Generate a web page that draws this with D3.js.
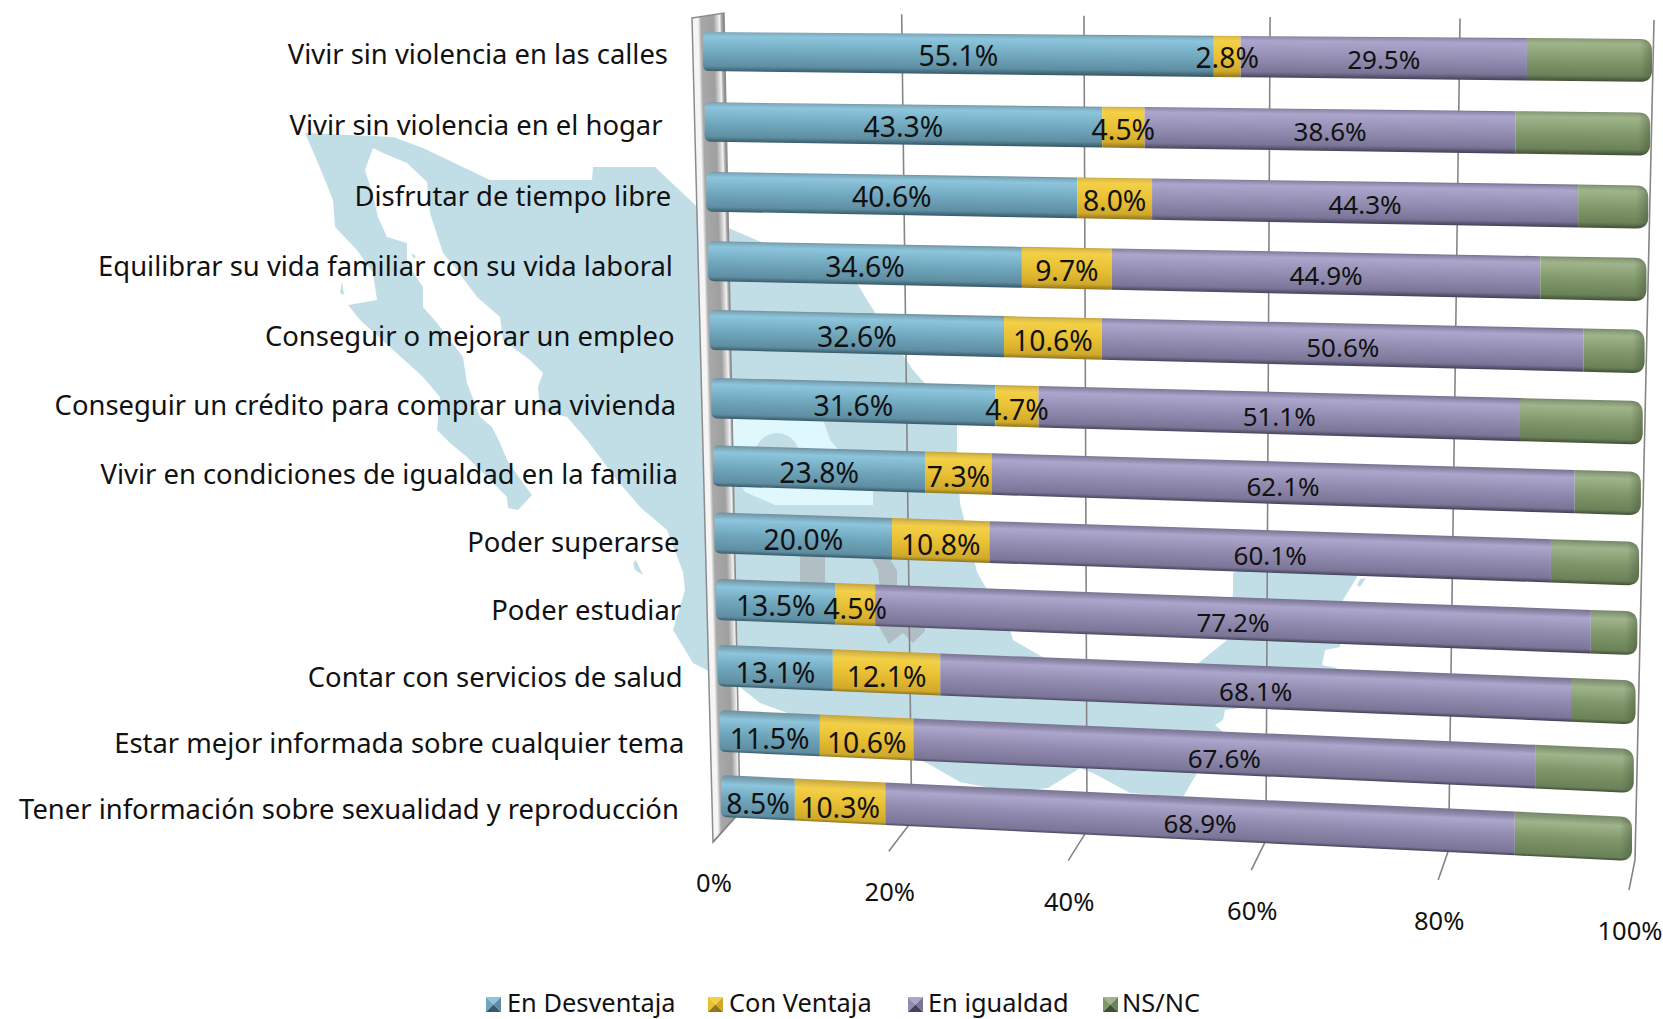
<!DOCTYPE html>
<html><head><meta charset="utf-8">
<style>html,body{margin:0;padding:0;background:#fff}svg{display:block}text{font-family:"Noto Sans",sans-serif;fill:#111;white-space:pre}</style>
<script src="https://cdn.jsdelivr.net/npm/d3@7/dist/d3.min.js"></script>
</head><body><svg id="c" width="1663" height="1019"></svg>
<script>
const categories=["Vivir sin violencia en las calles","Vivir sin violencia en el hogar ","Disfrutar de tiempo libre","Equilibrar su vida familiar con su vida laboral","Conseguir o mejorar un empleo","Conseguir un crédito para comprar una vivienda","Vivir en condiciones de igualdad en la familia","Poder superarse","Poder estudiar","Contar con servicios de salud","Estar mejor informada sobre cualquier tema","Tener información sobre sexualidad y reproducción "];
const enDesventaja=[55.1,43.3,40.6,34.6,32.6,31.6,23.8,20.0,13.5,13.1,11.5,8.5];
const conVentaja=[2.8,4.5,8.0,9.7,10.6,4.7,7.3,10.8,4.5,12.1,10.6,10.3];
const enIgualdad=[29.5,38.6,44.3,44.9,50.6,51.1,62.1,60.1,77.2,68.1,67.6,68.9];
const nsnc=[12.6,13.6,7.1,10.8,6.2,12.6,6.8,9.1,4.8,6.7,10.3,12.3];
const seriesNames=["En Desventaja","Con Ventaja","En igualdad","NS/NC"];
const axisTicks=[0,20,40,60,80,100];
const seriesValues=[enDesventaja,conVentaja,enIgualdad,nsnc];
const seriesLabelled=[true,true,true,false];
const seriesLabelSize=[28.3,28.3,26,0];
const palettes=[
 ["#6d909f","#7fa9bb","#8cc5dc","#6fa6bc","#5f8ea2","#375a69"],
 ["#c4a23a","#dcbc4a","#f3d047","#e8bf33","#d0a92a","#8f7620"],
 ["#777390","#8f8aab","#aca6cc","#918bb0","#7b7698","#45425a"],
 ["#76876a","#8a9d78","#9fb48b","#7f9669","#6b8259","#414f36"]];
// decorative background map outline, traced in page pixels
const mapOutline=[[305,133],[393,137],[423,148],[490,180],[592,180],[593,167],[655,167],[690,200],[710,220],[857,283],[867,300],[913,370],[957,420],[957,453],[960,503],[977,572],[1010,630],[1013,640],[1100,690],[1170,680],[1200,662],[1227,640],[1233,593],[1233,573],[1270,556],[1357,565],[1357,577],[1343,600],[1340,647],[1325,650],[1322,665],[1337,668],[1300,700],[1225,710],[1223,720],[1215,725],[1223,732],[1215,750],[1197,773],[1183,797],[1130,793],[1093,773],[1080,768],[1077,770],[1048,788],[1010,792],[960,782],[927,763],[793,715],[760,703],[740,687],[693,663],[673,630],[685,590],[683,572],[667,530],[640,507],[617,480],[587,440],[567,417],[540,410],[538,387],[543,373],[530,360],[503,340],[500,317],[477,297],[457,270],[443,253],[430,213],[427,182],[407,163],[383,153],[373,148],[365,170],[373,195],[378,217],[387,237],[407,243],[407,263],[423,287],[423,307],[437,323],[463,357],[467,383],[480,417],[492,427],[500,443],[507,460],[523,483],[532,495],[518,510],[508,508],[507,497],[490,480],[467,457],[450,443],[437,430],[440,397],[423,377],[390,347],[360,320],[348,305],[377,300],[373,273],[357,250],[335,227],[333,200],[318,163]];
const mapIslands=[[[342,282],[344,295],[340,293]],[[633,563],[636,560],[643,575],[635,570]],[[1360,579],[1366,578],[1360,587],[1357,585]],[[411,253],[416,256],[414,259]]];
const logoLight=[[733,410],[820,410],[830,440],[873,490],[873,505],[775,505],[745,492],[733,470]];
const logoGrey=[[[800,555],[825,555],[825,590],[800,590]],[[868,552],[885,552],[897,570],[897,590],[880,590],[878,570]],[[875,620],[925,620],[925,631],[913,643],[903,633],[889,644]]];

const svg=d3.select("#c");
const defs=svg.append("defs");
const kx=0.05,ky=-0.045;
const depth=(v,k)=>v*(1-k)/(1-k*v);
const uScale=d3.scaleLinear().domain([0,100]).range([0,1]);
const tOf=u=>depth(uScale(u),kx);
const rowOf=i=>depth(i/(categories.length-1),ky);
const unit=r=>d3.scaleLinear().domain([0,1]).range(r);
const xL=unit([703,721]),xR=unit([1652,1632]),tL=unit([32,775]),bL=unit([71,817]),tR=unit([39,817]),bR=unit([82,861]);
const barPt=(i,u)=>{const g=rowOf(i),t=tOf(u);return {x:unit([xL(g),xR(g)])(t),top:unit([tL(g),tR(g)])(t),bot:unit([bL(g),bR(g)])(t)};};
const backTopX=unit([723,1654]),backBotX=unit([740,1635]),frontX=unit([713,1629]);
const backTopY=unit([13,20]),backBotY=unit([812,860]),frontY=unit([842,890]);
const line=d3.line().curve(d3.curveLinearClosed);

// map
const gm=svg.append("g");
const mapColor="#c1dee7";
gm.append("path").attr("d",line(mapOutline)).attr("fill",mapColor);
gm.selectAll(".isl").data(mapIslands).join("path").attr("d",d=>line(d)).attr("fill",mapColor);
gm.append("path").attr("d",line(logoLight)).attr("fill","#dff8fd");
gm.append("circle").attr("cx",777).attr("cy",455).attr("r",22).attr("fill",mapColor);
gm.selectAll(".lg").data(logoGrey).join("path").attr("d",d=>line(d)).attr("fill","#b1bfc5");

// side wall
const wg=defs.append("linearGradient").attr("id","wall").attr("gradientUnits","userSpaceOnUse")
 .attr("x1",701).attr("y1",430).attr("x2",733).attr("y2",429.2);
[[0,"#f4f4f4"],[.22,"#f6f6f6"],[.32,"#a8a8a8"],[.7,"#9f9f9f"],[.84,"#d8d8d8"],[.9,"#f2f2f2"],[.95,"#b5b5b5"],[1,"#909090"]]
 .forEach(s=>wg.append("stop").attr("offset",s[0]).attr("stop-color",s[1]));
svg.append("path").attr("d",line([[692,18],[724,13],[740,812],[713,842]])).attr("fill","url(#wall)").attr("stroke","#8c8c8c").attr("stroke-width",1.5);

// gridlines
const gg=svg.append("g").attr("fill","none").attr("stroke","#858585").attr("stroke-width",1.6);
axisTicks.forEach(v=>{const t=tOf(v);
 const pts=[[frontX(t),frontY(t)],[backBotX(t),backBotY(t)]];
 if(v>0) pts.push([backTopX(t),backTopY(t)]);
 gg.append("path").attr("d",d3.line()(pts));
});
// axis labels
svg.append("g").selectAll("text").data(axisTicks).join("text")
 .attr("x",v=>frontX(tOf(v))+1).attr("y",v=>frontY(tOf(v))+41).attr("dy",".35em")
 .attr("text-anchor","middle").attr("font-size",25.5).text(v=>v+"%");

// category labels
const labelX=unit([668,686]),labelY=unit([54,809.5]);
svg.append("g").selectAll("text").data(categories).join("text")
 .attr("x",(d,i)=>labelX(i/(categories.length-1))).attr("y",(d,i)=>labelY(rowOf(i))).attr("dy",".35em")
 .attr("text-anchor","end").attr("font-size",27.4).text(d=>d);

// bars
const gb=svg.append("g"),gt=svg.append("g");
categories.forEach((c,i)=>{
 let cum=0;const f=i/(categories.length-1);
 seriesValues.forEach((vals,s)=>{
  const a=barPt(i,cum),b=barPt(i,cum+vals[i]);cum+=vals[i];
  const first=s===0,last=s===seriesValues.length-1;
  const p=d3.path();const rL=6,rR=12;
  const slopeT=(b.top-a.top)/(b.x-a.x),slopeB=(b.bot-a.bot)/(b.x-a.x);
  if(first){p.moveTo(a.x+rL,a.top+slopeT*rL);}else p.moveTo(a.x,a.top);
  if(last){p.lineTo(b.x-rR,b.top-slopeT*rR);p.quadraticCurveTo(b.x,b.top,b.x,b.top+rR);p.lineTo(b.x,b.bot-rR);p.quadraticCurveTo(b.x,b.bot,b.x-rR,b.bot-slopeB*rR);}
  else {p.lineTo(b.x,b.top);p.lineTo(b.x,b.bot);}
  if(first){p.lineTo(a.x+rL,a.bot+slopeB*rL);p.quadraticCurveTo(a.x,a.bot,a.x,a.bot-rL);p.lineTo(a.x,a.top+rL);p.quadraticCurveTo(a.x,a.top,a.x+rL,a.top+slopeT*rL);}
  else p.lineTo(a.x,a.bot);
  p.closePath();
  const mx=(a.x+b.x)/2,yt=(a.top+b.top)/2,yb=(a.bot+b.bot)/2,sl=(slopeT+slopeB)/2,h=yb-yt;
  const id=`g${i}_${s}`,gr=defs.append("linearGradient").attr("id",id).attr("gradientUnits","userSpaceOnUse")
   .attr("x1",mx).attr("y1",yt).attr("x2",mx-sl*h).attr("y2",yb);
  const topB=.02+.09*f,botB=.14-.07*f;
  [0,topB,topB+.1,.55,1-botB,1].forEach((o,k)=>gr.append("stop").attr("offset",o).attr("stop-color",palettes[s][k]));
  gb.append("path").attr("d",p.toString()).attr("fill",`url(#${id})`);
  if(last){
   const cid=`cap${i}`,cg=defs.append("linearGradient").attr("id",cid).attr("gradientUnits","userSpaceOnUse")
    .attr("x1",b.x-12).attr("y1",0).attr("x2",b.x).attr("y2",0);
   cg.append("stop").attr("offset",0).attr("stop-color","#3c4a30").attr("stop-opacity",0);
   cg.append("stop").attr("offset",1).attr("stop-color","#3c4a30").attr("stop-opacity",.4);
   gb.append("path").attr("d",p.toString()).attr("fill",`url(#${cid})`);
  }
  if(seriesLabelled[s]){
   const mid=barPt(i,cum-vals[i]/2),mt=(a.x+b.x)/2;
   gt.append("text").attr("x",mt).attr("y",(mid.top+mid.bot)/2+2+4*f).attr("dy",".35em")
    .attr("text-anchor","middle").attr("font-size",seriesLabelSize[s]).text(vals[i].toFixed(1)+"%");
  }
 });
});

// legend
const legendX=[486,708,908,1103],legendTextX=[507,729,928,1122];
const lg=svg.append("g");
seriesNames.forEach((n,s)=>{
 const x=legendX[s],y=997,w=15,cx=x+w/2,cy=y+w/2,P=palettes[s];
 [[[x,y],[x+w,y],[cx,cy],P[2]],[[x,y],[x,y+w],[cx,cy],P[3]],[[x+w,y],[x+w,y+w],[cx,cy],P[4]],[[x,y+w],[x+w,y+w],[cx,cy],P[5]]]
  .forEach(t=>lg.append("path").attr("d",line(t.slice(0,3))).attr("fill",t[3]));
 lg.append("text").attr("x",legendTextX[s]).attr("y",1003).attr("dy",".35em").attr("font-size",25.4).text(n);
});
</script></body></html>
